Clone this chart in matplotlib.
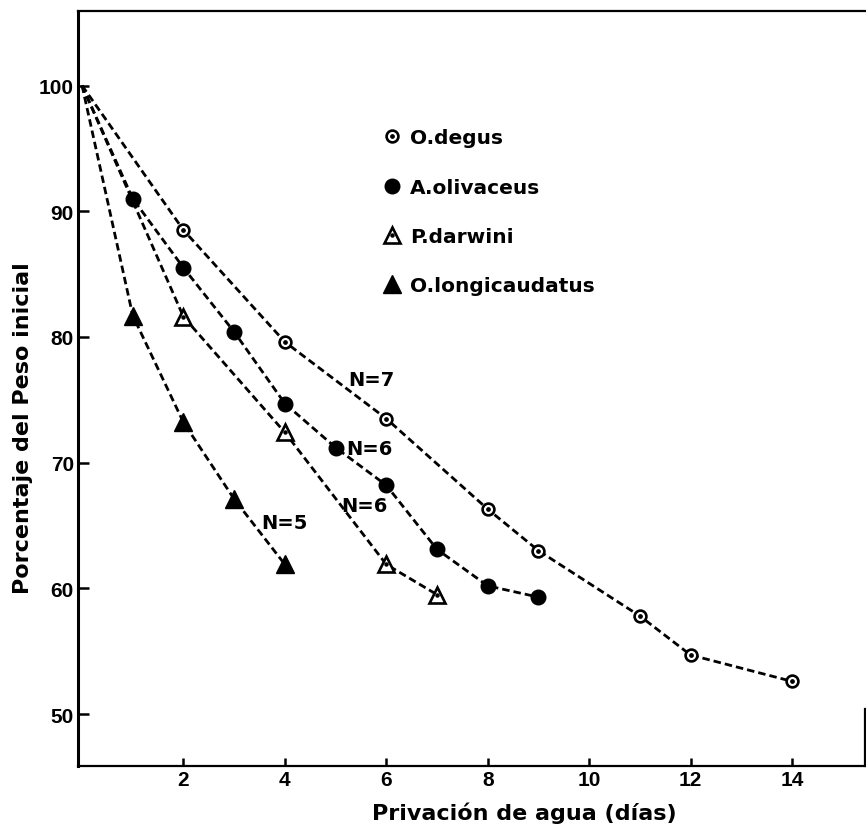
import matplotlib.pyplot as plt

# dias sin agua
dias_degus = [0, 2, 4, 6, 8, 9, 11, 12, 14]
peso_degus = [100, 88.5, 79.6, 73.5, 66.3, 63.0, 57.8, 54.7, 52.6]

dias_olivaceus = [0, 1, 2, 3, 4, 5, 6, 7, 8, 9]
peso_olivaceus = [100, 91.0, 85.5, 80.4, 74.7, 71.2, 68.2, 63.1, 60.2, 59.3]

dias_darwini = [0, 2, 4, 6, 7]
peso_darwini = [100, 81.6, 72.4, 61.9, 59.5]

dias_longi = [0, 1, 2, 3, 4]
peso_longi = [100, 81.7, 73.2, 67.1, 61.9]

especies = ["O.degus", "A.olivaceus", "P.darwini", "O.longicaudatus"]
n_labels = ["N=7", "N=6", "N=6", "N=5"]
n_pos = [(5.25, 76.6), (5.21, 71.1), (5.12, 66.6), (3.54, 65.25)]

xticks = [2, 4, 6, 8, 10, 12, 14]
yticks = [50, 60, 70, 80, 90, 100]

bold = dict(family="DejaVu Sans", weight="bold")

fig = plt.figure(figsize=(8.66, 8.28), dpi=100)
ax = fig.add_axes([78/866, 61.3/828, 787/866, 754.7/828])

ls = (0, (2.7, 1.45))
lw = 2.0

ax.plot(dias_degus, peso_degus, ls=ls, lw=lw, c="k")
ax.plot(dias_olivaceus, peso_olivaceus, ls=ls, lw=lw, c="k")
ax.plot(dias_darwini, peso_darwini, ls=ls, lw=lw, c="k")
ax.plot(dias_longi, peso_longi, ls=ls, lw=lw, c="k")

# markers (day 0 has none)
h1 = ax.plot(dias_degus[1:], peso_degus[1:], ls="none", marker="o", ms=8.5,
             mfc="white", mec="k", mew=1.9)[0]
h1b = ax.plot(dias_degus[1:], peso_degus[1:], ls="none", marker="o", ms=2.4,
              mfc="k", mec="k")[0]
h2 = ax.plot(dias_olivaceus[1:], peso_olivaceus[1:], ls="none", marker="o",
             ms=10.5, mfc="k", mec="k")[0]
h3 = ax.plot(dias_darwini[1:], peso_darwini[1:], ls="none", marker="^", ms=12,
             mfc="white", mec="k", mew=1.9)[0]
h3b = ax.plot(dias_darwini[1:], peso_darwini[1:], ls="none", marker="o", ms=2.2,
              mfc="k", mec="k")[0]
h4 = ax.plot(dias_longi[1:], peso_longi[1:], ls="none", marker="^", ms=13,
             mfc="k", mec="k")[0]

for lab, (x, y) in zip(n_labels, n_pos):
    ax.text(x, y, lab, fontsize=14, ha="left", va="center", **bold)

leg = ax.legend([(h1, h1b), h2, (h3, h3b), h4], especies,
                loc="upper left", bbox_to_anchor=(381.7/866, 1 - 129.5/828),
                bbox_transform=fig.transFigure, frameon=False, borderpad=0,
                borderaxespad=0, handlelength=1.0, handletextpad=0.4,
                labelspacing=1.5, prop=dict(size=14.5, **bold))

ax.set_xlim(-0.08, 15.44)
ax.set_ylim(45.89, 105.93)
ax.set_xticks(xticks)
ax.set_yticks(yticks)
for t in ax.get_xticklabels() + ax.get_yticklabels():
    t.set_fontfamily("Liberation Sans")
    t.set_fontweight("bold")
    t.set_fontsize(15)
ax.tick_params(axis="x", direction="in", length=6, width=1.8, pad=3)
ax.tick_params(axis="y", direction="in", length=8, width=1.8, pad=3)

ax.spines["left"].set_linewidth(2.2)
ax.spines["bottom"].set_linewidth(1.6)
ax.spines["top"].set_linewidth(1.6)
ax.spines["right"].set_linewidth(1.6)
ax.spines["right"].set_bounds(45.89, 50.4)

ax.set_xlabel("Privación de agua (días)", fontsize=16, **bold)
ax.xaxis.set_label_coords(0.567, -0.048)
ax.set_ylabel("Porcentaje del Peso inicial", fontsize=16, **bold)
ax.yaxis.set_label_coords(-0.057, 0.448)

fig.savefig("out.png", dpi=100)
